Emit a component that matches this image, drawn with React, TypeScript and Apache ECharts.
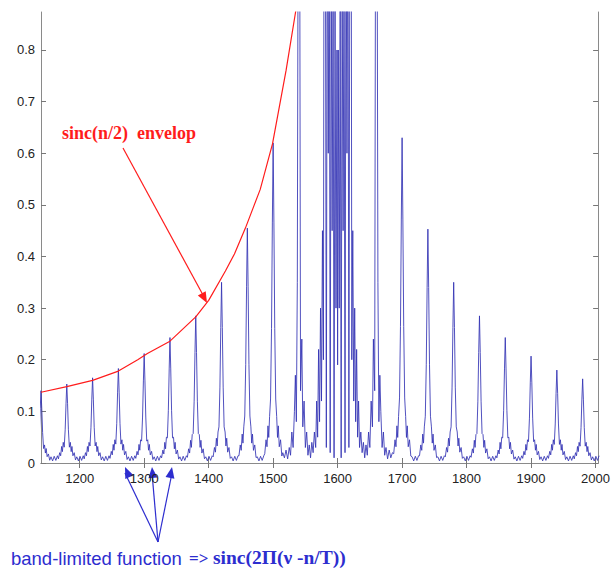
import React, { useEffect, useRef } from "react";
import * as echarts from "echarts";

// ---- data ----
const xTicks = [1200, 1300, 1400, 1500, 1600, 1700, 1800, 1900, 2000];
const yTicks = [0, 0.1, 0.2, 0.3, 0.4, 0.5, 0.6, 0.7, 0.8];

// regular comb peaks left of the central group
const peaksLeftX = [1140, 1180, 1220, 1260, 1300, 1340, 1380, 1420, 1460, 1500];
const peaksLeftY = [0.14, 0.153, 0.165, 0.183, 0.212, 0.243, 0.285, 0.35, 0.455, 0.62];
const sideLeft = [0.035, 0.04, 0.04, 0.045, 0.045, 0.05, 0.055, 0.06, 0.07, 0.09];

// regular comb peaks right of the central group
const peaksRightX = [1700, 1740, 1780, 1820, 1860, 1900, 1940, 1980];
const peaksRightY = [0.63, 0.453, 0.35, 0.285, 0.243, 0.207, 0.18, 0.163];
const sideRight = [0.09, 0.07, 0.06, 0.055, 0.05, 0.045, 0.045, 0.04];

// shape of one peak (offset, fraction of peak height)
const peakShape = [[-4, 0.2], [-2.5, 0.42], [-1.2, 0.75], [0, 1], [1.2, 0.75], [2.5, 0.42], [4, 0.2]];
// ripple after a peak (offset, fraction of sidelobe height)
const ripplePost = [[5.5, 1.0], [6.8, 0.55], [8, 0.8], [9.5, 0.35], [11.5, 0.5], [13.5, 0.15]];
// trough ripple mid-way (offset, absolute value)
const rippleMid = [[15.5, 0.012], [18, 0.004], [20.5, 0.013], [23, 0.005], [25.5, 0.014]];
// ripple before the next peak (offset from next peak, fraction of its sidelobe)
const ripplePre = [[-13, 0.2], [-11, 0.5], [-9.5, 0.35], [-8, 0.8], [-6.8, 0.55], [-5.5, 1.0]];

// central group 1515..1685 (main lobes, clipped at the top)
const centerX = [
  1515, 1517.5, 1520, 1522.5, 1525, 1527, 1529, 1531, 1533, 1534.5, 1536, 1537.5, 1539, 1540, 1541,
  1542.5, 1544.5, 1546, 1548, 1550, 1552, 1554, 1556, 1558, 1560, 1562, 1564, 1566, 1567.5, 1569,
  1570.5, 1572, 1573.5, 1575, 1576.5, 1578, 1579, 1580, 1581, 1582.5, 1584, 1585.5, 1587, 1588.5,
  1590, 1591.5, 1593, 1594.5, 1596, 1597.5, 1599, 1600, 1601, 1602.5, 1604, 1605.5, 1607, 1608.5,
  1610, 1611.5, 1613, 1614.5, 1616, 1617.5, 1619, 1620, 1621, 1622, 1623.5, 1625, 1626.5, 1628,
  1629.5, 1631, 1632.5, 1634, 1636, 1638, 1640, 1642, 1644, 1646, 1648, 1650, 1652, 1654, 1655.5,
  1657.5, 1659, 1660, 1661, 1662.5, 1664, 1665.5, 1667, 1669, 1671, 1673, 1675, 1677.5, 1680,
  1682.5, 1685,
];
const centerY = [
  0.02, 0.01, 0.025, 0.008, 0.03, 0.015, 0.06, 0.03, 0.1, 0.17, 0.08, 0.35, 1.2, 1.5, 1.2,
  0.14, 0.24, 0.07, 0.12, 0.03, 0.06, 0.015, 0.035, 0.01, 0.04, 0.02, 0.06, 0.03, 0.12, 0.05,
  0.22, 0.08, 0.3, 0.12, 0.45, 0.2, 1.2, 1.5, 1.1, 0.03, 1.2, 0.6, 1.1, 0.02,
  1.0, 0.45, 0.95, 0.01, 0.9, 0.3, 0.8, 0.19, 0.8, 0.3, 0.9, 0.01, 0.95, 0.45,
  1.0, 0.02, 1.1, 0.6, 1.2, 0.03, 1.1, 1.5, 1.2, 0.2, 0.45, 0.12, 0.3, 0.08,
  0.22, 0.05, 0.12, 0.03, 0.06, 0.02, 0.04, 0.01, 0.035, 0.015, 0.06, 0.03, 0.12, 0.07, 0.24,
  0.14, 1.2, 1.5, 1.2, 0.35, 0.08, 0.17, 0.1, 0.03, 0.06, 0.015, 0.03, 0.008, 0.025,
  0.01, 0.02,
];

// red sinc(n/2) envelope
const envX = [1140, 1180, 1220, 1260, 1290, 1305, 1340, 1380, 1400, 1426, 1440, 1457, 1480, 1499, 1520, 1535, 1545];
const envY = [0.137, 0.148, 0.16, 0.178, 0.2, 0.212, 0.236, 0.283, 0.315, 0.372, 0.405, 0.455, 0.53, 0.618, 0.76, 0.875, 0.95];

function buildRun(px: number[], py: number[], ps: number[], leadIn: boolean, leadOut: boolean) {
  const pts: number[][] = [];
  for (let i = 0; i < px.length; i++) {
    if (i === 0 && leadIn) ripplePre.forEach(([o, f]) => pts.push([px[0] + o, f * ps[0]]));
    peakShape.forEach(([o, f]) => pts.push([px[i] + o, f * py[i]]));
    if (i < px.length - 1) {
      ripplePost.forEach(([o, f]) => pts.push([px[i] + o, f * ps[i]]));
      rippleMid.forEach(([o, v]) => pts.push([px[i] + o, v]));
      ripplePre.forEach(([o, f]) => pts.push([px[i + 1] + o, f * ps[i + 1]]));
    } else if (leadOut) {
      ripplePost.forEach(([o, f]) => pts.push([px[i] + o, f * ps[i]]));
    }
  }
  return pts;
}

const XMIN = 1140;
const XMAX = 2004;
const YMAX = 0.8736;

function arrowHead(tip: number[], from: number[], len: number, half: number) {
  const dx = tip[0] - from[0];
  const dy = tip[1] - from[1];
  const d = Math.hypot(dx, dy);
  const ux = dx / d, uy = dy / d;
  const bx = tip[0] - ux * len, by = tip[1] - uy * len;
  return [tip, [bx - uy * half, by + ux * half], [bx + uy * half, by - ux * half]];
}

export default function App() {
  const ref = useRef<HTMLDivElement>(null);
  useEffect(() => {
    if (!ref.current) return;
    const chart = echarts.init(ref.current, undefined, { renderer: "svg" });

    const blue: number[][] = [
      ...buildRun(peaksLeftX, peaksLeftY, sideLeft, false, true),
      ...centerX.map((x, i) => [x, centerY[i]]),
      ...buildRun(peaksRightX, peaksRightY, sideRight, true, true),
    ];
    const lastX = peaksRightX[peaksRightX.length - 1];
    rippleMid.forEach(([o, v]) => blue.push([lastX + o, v]));
    const env = envX.map((x, i) => [x, envY[i]]);

    const red = "#ff1c1c";
    const blueC = "#2d2dcf";
    const redFrom = [123, 148];
    const redTip = [207, 303];
    const bFrom = [158, 542];
    const bTips = [[125, 467], [152, 467], [172, 467]];

    const graphic: any[] = [
      {
        type: "text", x: 62, y: 133,
        style: { text: "sinc(n/2)  envelop", fill: red, fontSize: 18, fontWeight: "bold", fontFamily: "Liberation Serif", verticalAlign: "middle" },
      },
      { type: "line", shape: { x1: redFrom[0], y1: redFrom[1], x2: redTip[0] - 4, y2: redTip[1] - 8 }, style: { stroke: red, lineWidth: 1.2 } },
      { type: "polygon", shape: { points: arrowHead(redTip, redFrom, 11, 4.5) }, style: { fill: red } },
      ...bTips.flatMap((t) => [
        { type: "line", shape: { x1: bFrom[0], y1: bFrom[1], x2: t[0], y2: t[1] + 6 }, style: { stroke: blueC, lineWidth: 1.2 } },
        { type: "polygon", shape: { points: arrowHead(t, bFrom, 11, 4.5) }, style: { fill: blueC } },
      ]),
      {
        type: "text", x: 11, y: 558,
        style: { text: "band-limited function", fill: blueC, fontSize: 18.5, fontFamily: "Liberation Sans", verticalAlign: "middle" },
      },
      {
        type: "text", x: 189, y: 558,
        style: { text: "=>", fill: blueC, fontSize: 17, fontWeight: "bold", fontFamily: "Liberation Serif", verticalAlign: "middle" },
      },
      {
        type: "text", x: 213, y: 557,
        style: { text: "sinc(2Π(ν -n/T))", fill: blueC, fontSize: 19.5, fontWeight: "bold", fontFamily: "Liberation Serif", verticalAlign: "middle" },
      },
    ];

    const axisLine = { show: true, lineStyle: { color: "#8a8a8a", width: 1 } };
    const label = { color: "#222", fontSize: 13, fontFamily: "Liberation Sans", formatter: (v: number) => String(v) };

    chart.setOption({
      animation: false,
      backgroundColor: "#ffffff",
      grid: { left: 41, top: 12, width: 570, height: 451 },
      xAxis: [
        {
          type: "value", min: XMIN, max: XMAX, position: "bottom",
          axisLine, splitLine: { show: false },
          axisTick: { show: true, inside: true, length: 5, customValues: xTicks, lineStyle: { color: "#777" } },
          axisLabel: { ...label, margin: 9, customValues: xTicks },
        },
        {
          type: "value", min: XMIN, max: XMAX, position: "top",
          axisLine, splitLine: { show: false },
          axisTick: { show: true, inside: true, length: 5, customValues: xTicks, lineStyle: { color: "#777" } },
          axisLabel: { show: false },
        },
      ],
      yAxis: [
        {
          type: "value", min: 0, max: YMAX, position: "left",
          axisLine, splitLine: { show: false },
          axisTick: { show: true, inside: true, length: 5, customValues: yTicks, lineStyle: { color: "#777" } },
          axisLabel: { ...label, margin: 6, customValues: yTicks },
        },
        {
          type: "value", min: 0, max: YMAX, position: "right",
          axisLine, splitLine: { show: false },
          axisTick: { show: true, inside: true, length: 5, customValues: yTicks, lineStyle: { color: "#777" } },
          axisLabel: { show: false },
        },
      ],
      series: [
        {
          type: "line", data: blue, xAxisIndex: 0, yAxisIndex: 0, symbol: "none", showSymbol: false,
          clip: true, lineStyle: { color: "rgba(50,50,180,0.85)", width: 1 }, z: 2,
        },
        {
          type: "line", data: env, xAxisIndex: 0, yAxisIndex: 0, symbol: "none", showSymbol: false,
          clip: true, lineStyle: { color: red, width: 1.2 }, z: 3,
        },
      ],
      graphic,
    });
    return () => chart.dispose();
  }, []);
  return <div ref={ref} style={{ position: "fixed", left: 0, top: 0, width: 613, height: 568 }} />;
}
